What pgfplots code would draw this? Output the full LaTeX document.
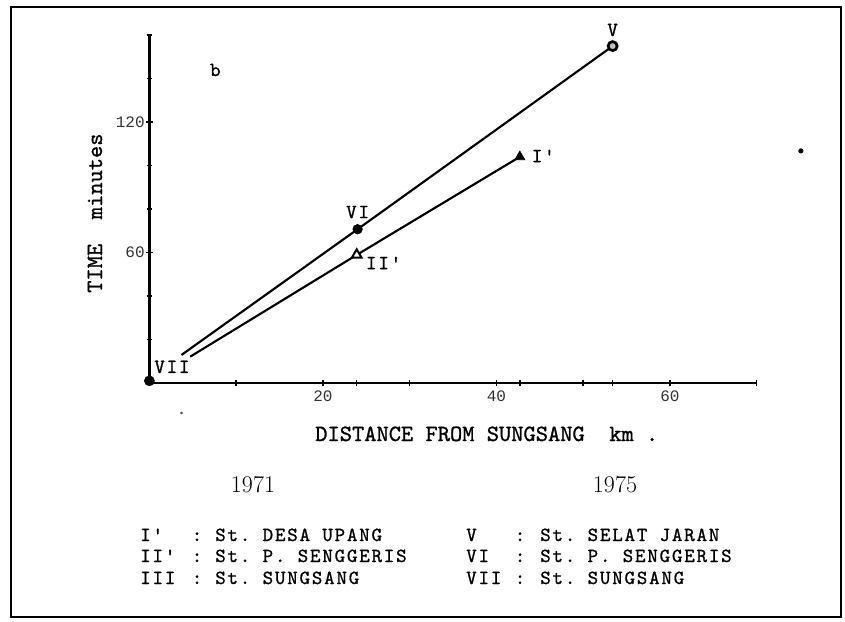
\documentclass[border=0pt]{standalone}
\usepackage{pgfplots}
\pgfplotsset{compat=1.18}
\usepackage{fontspec}
\newfontfamily\twfam{lmmono10-regular}[Extension=.otf,LetterSpace=9,FakeBold=1]
\newfontfamily\lblfam{lmmono10-regular}[Extension=.otf,FakeBold=1]
\newfontfamily\tickfam{Liberation Mono}
\newcommand\T{\twfam\fontsize{15}{16}\selectfont}
\newcommand\Lb{\lblfam\fontsize{17.5}{19}\selectfont}
\newcommand\Tk{\tickfam\fontsize{12}{13}\selectfont}
\frenchspacing
\begin{document}
\begin{tikzpicture}
\useasboundingbox (0,0) rectangle (633.75pt,-465.75pt);
\begin{axis}[
  at={(112.05pt,-287.25pt)}, anchor=south west,
  x=6.50625pt, y=1.63125pt,
  xmin=0, xmax=70, ymin=0, ymax=160,
  axis x line=bottom, axis y line=left,
  axis line style={-, line width=1.7pt},
  x axis line style={-}, y axis line style={-},
  xtick={20,40,60}, minor xtick={10,30,50,70,23.9,42.7,53.4},
  ytick={60,120}, minor ytick={20,40,80,100,140,160},
  tick align=center,
  major tick length=5pt, minor tick length=4pt,
  tick style={line width=1.1pt, black},
  ticklabel style={font=\Tk, text=black!80},
  yticklabel style={xshift=2.5pt},
  /pgf/number format/assume math mode=true,
  clip=false,
]
\addplot[line width=1.6pt, mark=none] coordinates {(3.7,12.9) (24.0,70.7) (53.4,154.9)};
\addplot[line width=1.6pt, mark=none] coordinates {(4.7,12.1) (23.9,58.9) (42.7,104.0)};
\addplot[only marks, mark=*, mark size=3.6pt, mark options={fill=black, draw=black}] coordinates {(24.0,70.7)};
\addplot[only marks, mark=*, mark size=3.4pt, mark options={fill=gray!50, draw=black, line width=2pt}] coordinates {(53.4,154.9)};
\addplot[only marks, mark=triangle*, mark size=4.4pt, mark options={fill=black, draw=black}] coordinates {(42.7,104.0)};
\addplot[only marks, mark=triangle*, mark size=4.2pt, mark options={fill=white, draw=black, line width=1.5pt}] coordinates {(23.9,58.9)};
\addplot[only marks, mark=*, mark size=3.8pt, mark options={fill=black, draw=black}] coordinates {(0,1)};
\addplot[only marks, mark=*, mark size=1.7pt, mark options={fill=black, draw=black}] coordinates {(75.1,106.7)};
\addplot[only marks, mark=*, mark size=0.8pt, mark options={fill=black!70, draw=black!70}] coordinates {(3.7,-13.8)};
\node[font=\T, inner sep=0pt] at (axis cs:53.4,162.3) {V};
\node[font=\T, inner sep=0pt] at (axis cs:24.0,78.6) {VI};
\node[font=\T, inner sep=0pt] at (axis cs:27.0,55.2) {II'};
\node[font=\T, inner sep=0pt] at (axis cs:45.4,104.4) {I'};
\node[font=\T, inner sep=0pt] at (axis cs:2.6,7.4) {VII};
\node[font=\T, inner sep=0pt] at (axis cs:7.6,143.9) {b};
\end{axis}
\begin{scope}[x=0.75pt,y=-0.75pt]
\draw[line width=2pt] (11,7) rectangle (841,617);
\node[font=\Lb, anchor=base west, inner sep=0pt] at (315,441) {DISTANCE~FROM~SUNGSANG~~km~.};
\node[font=\Lb, anchor=base west, inner sep=0pt, rotate=90] at (102,293) {TIME~~minutes};
\node[font=\rmfamily\fontsize{18}{20}\selectfont, inner sep=0pt] at (253,485) {1971};
\node[font=\rmfamily\fontsize{18}{20}\selectfont, inner sep=0pt] at (615,485) {1975};
% left column
\node[font=\T, anchor=base west, inner sep=0pt] at (140,541) {I'};
\node[font=\T, anchor=base west, inner sep=0pt] at (140,562) {II'};
\node[font=\T, anchor=base west, inner sep=0pt] at (140,584) {III};
\node[font=\T, anchor=base, inner sep=0pt] at (197,541) {:};
\node[font=\T, anchor=base, inner sep=0pt] at (197,562) {:};
\node[font=\T, anchor=base, inner sep=0pt] at (197,584) {:};
\node[font=\T, anchor=base west, inner sep=0pt] at (215,541) {St. DESA UPANG};
\node[font=\T, anchor=base west, inner sep=0pt] at (215,562) {St. P. SENGGERIS};
\node[font=\T, anchor=base west, inner sep=0pt] at (215,584) {St. SUNGSANG};
% right column
\node[font=\T, anchor=base west, inner sep=0pt] at (466,541) {V};
\node[font=\T, anchor=base west, inner sep=0pt] at (466,562) {VI};
\node[font=\T, anchor=base west, inner sep=0pt] at (466,584) {VII};
\node[font=\T, anchor=base, inner sep=0pt] at (520,541) {:};
\node[font=\T, anchor=base, inner sep=0pt] at (520,562) {:};
\node[font=\T, anchor=base, inner sep=0pt] at (520,584) {:};
\node[font=\T, anchor=base west, inner sep=0pt] at (540,541) {St. SELAT JARAN};
\node[font=\T, anchor=base west, inner sep=0pt] at (540,562) {St. P. SENGGERIS};
\node[font=\T, anchor=base west, inner sep=0pt] at (540,584) {St. SUNGSANG};
\end{scope}
\end{tikzpicture}
\end{document}
